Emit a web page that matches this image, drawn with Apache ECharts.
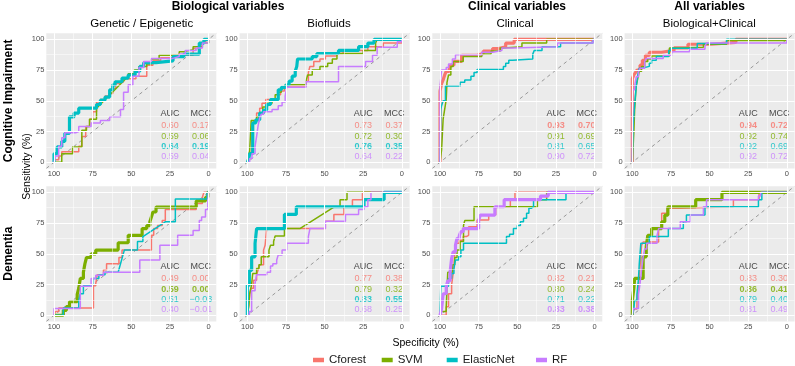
<!DOCTYPE html>
<html>
<head>
<meta charset="utf-8">
<script src="https://cdn.jsdelivr.net/npm/echarts@6/dist/echarts.min.js"></script>
<style>html,body{margin:0;padding:0;background:#fff}#main{width:795px;height:366px}</style>
</head>
<body>
<div id="main"></div>
<script>
// models, ggplot hue colours
var models = ['Cforest', 'SVM', 'ElasticNet', 'RF'];
var colors = ['#F8766D', '#7CAE00', '#00BFC4', '#C77CFF'];
var colTitles = ['Genetic / Epigenetic', 'Biofluids', 'Clinical', 'Biological+Clinical'];
var rowTitles = ['Cognitive Impairment', 'Dementia'];
var tickValues = [0, 25, 50, 75, 100];
var minorValues = [12.5, 37.5, 62.5, 87.5];

// AUC / MCC in model order, per panel (columns left to right)
var aucCI = [[0.60, 0.59, 0.64, 0.59], [0.73, 0.72, 0.76, 0.64], [0.93, 0.91, 0.81, 0.90], [0.94, 0.92, 0.92, 0.92]];
var mccCI = [[0.17, 0.06, 0.19, 0.04], [0.37, 0.30, 0.35, 0.22], [0.70, 0.69, 0.65, 0.72], [0.72, 0.74, 0.69, 0.72]];
var aucDem = [[0.49, 0.59, 0.51, 0.40], [0.77, 0.79, 0.83, 0.68], [0.82, 0.80, 0.71, 0.83], [0.83, 0.86, 0.79, 0.81]];
var mccDem = [[0.00, 0.00, -0.03, -0.01], [0.38, 0.32, 0.55, 0.25], [0.21, 0.24, 0.22, 0.38], [0.30, 0.41, 0.40, 0.49]];
var bestCI = [2, 2, 0, 0];
var bestDem = [1, 2, 3, 1];

// ROC curves [specificity, sensitivity], order: Cforest, SVM, ElasticNet, RF
var ciGenetic = [
  [[100,0],[100,2],[97,2],[97,5],[95,5],[95,8.5],[84,8.5],[84,13],[82,13],[82,21],[79.5,21],[79.5,29],[77,29],[77,35],[75,35],[75,41],[72.5,41],[72.5,49],[70,49],[70,51],[67,51],[67,54],[64.5,54],[64.5,56],[62,56],[62,60],[60,60],[60,64],[58,64],[58,65.5],[55,65.5],[55,68],[47,68],[47,70],[40,70],[40,79],[36,79],[36,82.5],[31,82.5],[31,85],[23,85],[23,87],[10,87],[10,92.5],[5,92.5],[5,97],[2,97],[2,100],[0,100]],
  [[100,0],[95,0],[95,7],[88,7],[88,12.5],[82,12.5],[82,26],[79,26],[79,29],[77,29],[77,35],[72.5,35],[72.5,44],[52,70],[52,72],[48,72],[48,75],[45,75],[45,78],[40,78],[40,80],[37,80],[37,84],[32,84],[32,87],[19,87],[19,90],[16,90],[16,91.5],[10,91.5],[10,94],[4,94],[4,97],[0,97],[0,100]],
  [[100,0],[100,7],[98,7],[98,12.5],[95,12.5],[95,17],[93,17],[93,23.5],[90,23.5],[90,37],[87,37],[87,40],[84,40],[84,44],[72.5,44],[72.5,47],[70,47],[70,50.5],[67,50.5],[67,53],[64,53],[64,59],[62,59],[62,63],[60.5,63],[60.5,65.5],[56,65.5],[56,68.5],[52,68.5],[52,71],[47.5,71],[47.5,74],[44.5,74],[44.5,78],[42,78],[42,81],[34,81],[34,82.5],[23,82.5],[23,86],[16,86],[16,88],[6,88],[6,97],[3,97],[3,100],[0,100]],
  [[100,0],[99,0],[99,5],[97,5],[97,13],[95,13],[95,20],[93,20],[93,24],[86,24],[86,25],[84,25],[84,29],[76,29],[76,32],[70,32],[70,34],[64,34],[64,37],[57,37],[57,43],[55,43],[55,57],[52,57],[52,63],[49,63],[49,70],[45,70],[45,77],[42,77],[42,82],[37,82],[37,84.5],[23,84.5],[23,86],[19,86],[19,88],[15,88],[15,91],[8,91],[8,93],[4,93],[4,97],[0,97],[0,100]]
];
var ciBiofluids = [
  [[100,0],[99,2],[98.5,2],[98.5,8],[97,8],[97,20],[96,20],[96,33],[94,33],[94,40],[92,40],[92,44],[90.5,44],[90.5,48],[88,48],[88,51],[80,51],[80,55],[78.5,55],[78.5,58],[76,58],[76,62],[62,62],[62,66],[60.5,66],[60.5,73],[59.5,73],[59.5,78],[57,78],[57,82],[53,82],[53,84],[49.5,84],[49.5,86.5],[42,86.5],[42,88.5],[38,88.5],[38,91],[22,91],[22,94],[12,94],[12,97],[0,97],[0,100]],
  [[100,0],[99.5,0],[99.5,5],[98.5,5],[98.5,9],[97.5,9],[97.5,34],[94,34],[94,37],[92,37],[92,40],[90,40],[90,45],[87,45],[87,48],[84,48],[84,51],[82,51],[82,55],[80,55],[80,57],[78,57],[78,60],[75.5,60],[75.5,63],[62,63],[62,66],[61,66],[61,71],[58,71],[58,75],[53,75],[53,78],[48,78],[48,80.5],[45,80.5],[45,84],[42,84],[42,88.5],[25,88.5],[25,91],[17,91],[17,97],[16,97],[16,100],[0,100]],
  [[100,0],[99,3],[98.5,3],[98.5,7],[96.5,7],[96.5,12],[96.5,32],[94.5,32],[94.5,34.5],[92,34.5],[92,40],[89.5,40],[89.5,42.5],[87.5,42.5],[87.5,47],[85,47],[85,51],[80,51],[80,59],[78,59],[78,61],[75,61],[75,63],[73,63],[73,66],[71,66],[71,70],[69,70],[69,74],[68,74],[68,78],[67.5,78],[67.5,84],[58,84],[58,86],[55,86],[55,88.5],[41,88.5],[41,91],[28,91],[28,94],[22,94],[22,97],[18,97],[18,100],[0,100]],
  [[100,0],[98.5,0],[98.5,3],[97,3],[97,7],[95,7],[95,13],[94,13],[94,21],[93,21],[93,30],[92,30],[92,36],[91,36],[91,39],[89.5,39],[89.5,41],[84,41],[84,43],[80,43],[80,46],[77.5,46],[77.5,49],[75.5,49],[75.5,54],[74.5,54],[74.5,61],[62,61],[62,65.5],[41,65.5],[41,78],[23.5,78],[23.5,82],[19,82],[19,87],[16,87],[16,93.5],[3,93.5],[3,98],[0,98],[0,100]]
];
var ciClinical = [
  [[100,0],[100,58],[99,58],[99,64],[98,64],[98,67],[97,67],[97,71],[96,71],[96,74],[94,74],[94,76],[93,76],[93,79],[91,79],[91,82],[86,82],[86,87],[76,87],[76,88.5],[72,88.5],[72,90.5],[66,90.5],[66,92.5],[62,92.5],[62,94],[57.5,94],[57.5,97],[52,97],[52,100],[0,100]],
  [[100,0],[99,0],[99,10],[98,10],[98,35],[97,35],[97,43],[96,43],[96,51],[95.5,51],[95.5,65],[94.5,65],[94.5,71],[93,71],[93,78],[91.5,78],[91.5,82],[85,82],[85,86],[73,86],[73,88],[67,88],[67,90.5],[61,90.5],[61,93],[59,93],[59,94],[47,94],[47,97],[31,97],[31,100],[0,100]],
  [[100,0],[99.5,0],[99.5,43],[99,43],[99,46],[98,46],[98,50],[96.5,50],[96.5,62],[87,62],[87,65],[84,65],[84,67],[80,67],[80,70],[78,70],[78,73],[76,73],[76,75.5],[59,75.5],[59,78],[57.5,78],[57.5,80.5],[55.5,80.5],[55.5,83],[53,83],[53,84],[40,84],[40,88],[39,88],[39,91],[34,91],[34,94],[22,94],[22,97],[1,97],[1,100],[0,100]],
  [[100,0],[100,62],[99,62],[99,75],[96,75],[96,77],[94.5,77],[94.5,80],[92,80],[92,84],[90,84],[90,87.5],[73,87.5],[73,89.5],[66,89.5],[66,91],[60,91],[60,93],[53,93],[53,94],[24,94],[24,97],[1,97],[1,100],[0,100]]
];
var ciAll = [
  [[100,0],[100,68],[99,68],[99,71],[98,71],[98,73],[97,73],[97,75],[95,75],[95,79],[93.5,79],[93.5,83],[91.5,83],[91.5,87],[89,87],[89,89.5],[81,89.5],[81,91],[73,91],[73,93],[64,93],[64,96],[49,96],[49,97.5],[33,97.5],[33,100],[0,100]],
  [[100,0],[99,0],[99,25],[98.5,25],[98.5,43],[97.5,43],[97.5,62],[96.5,62],[96.5,68],[95.5,68],[95.5,74],[94,74],[94,78],[92,78],[92,82],[90,82],[90,84],[87.5,84],[87.5,86.5],[76,86.5],[76,93],[70,93],[70,93.5],[54,93.5],[54,96],[39,96],[39,99],[0,99],[0,100]],
  [[100,0],[99.5,0],[99.5,30],[98.5,30],[98.5,47],[97.5,47],[97.5,61.5],[96.5,61.5],[96.5,71],[95.5,71],[95.5,76.5],[94,76.5],[94,78],[89,78],[89,80.5],[87.5,80.5],[87.5,83],[84.5,83],[84.5,86],[76.5,86],[76.5,91],[75,91],[75,92.7],[58,92.7],[58,96.7],[39,96.7],[39,100],[0,100]],
  [[100,0],[99.8,0],[99.8,59],[98.5,59],[98.5,62],[97.5,62],[97.5,69.5],[96,69.5],[96,73.5],[95,73.5],[95,76.5],[92,76.5],[92,82],[91,82],[91,84.5],[80,84.5],[80,87],[74.5,87],[74.5,90],[63,90],[63,92],[53,92],[53,94.5],[52,94.5],[52,97],[0,97],[0,100]]
];
var demGenetic = [
  [[100,0],[99,0],[99,3],[97,3],[97,6],[74.5,6],[74.5,24],[73,24],[73,26],[72,26],[72,33],[68,33],[68,37],[66,37],[66,42],[58,42],[58,47],[56,47],[56,53],[37,53],[37,65],[35.5,65],[35.5,70.5],[33,70.5],[33,73],[30,73],[30,77],[28,77],[28,86],[8,86],[8,91],[4,91],[4,96],[3,96],[3,100],[0,100]],
  [[100,0],[94,0],[94,4],[92,4],[92,7],[90,7],[90,11],[85,11],[85,17],[84,17],[84,22],[83,22],[83,30],[81,30],[81,35],[80,35],[80,42],[79,42],[79,47],[76,47],[76,50],[73,50],[73,53],[58.5,53],[58.5,59],[52,59],[52,65],[43,65],[43,70.5],[40,70.5],[40,73],[38,73],[38,76],[37,76],[37,80],[36,80],[36,84],[34,84],[34,88],[8,88],[8,93],[2,93],[2,96],[0.5,96],[0.5,100],[0,100]],
  [[100,0],[94,0],[94,6],[84,6],[84,12],[83,12],[83,17.5],[81,17.5],[81,24],[75,24],[75,30],[71,30],[71,33],[67,33],[67,35],[58.5,35],[54.5,53],[46,53],[46,60],[42.5,60],[42.5,64],[28,76],[21.5,76],[21.5,94.5],[1,94.5],[1,100],[0,100]],
  [[100,0],[100,5.5],[83,5.5],[83,23.5],[76,23.5],[76,30],[73,30],[73,32.6],[68,32.6],[68,35],[44.5,35],[44.5,45],[31.5,45],[31.5,57],[20,57],[20,65],[10,65],[10,69],[6,69],[6,77],[4.5,77],[4.5,80],[2,80],[2,86],[0.5,86],[0.5,91],[0,91],[0,100]]
];
var demBiofluids = [
  [[100,0],[99.3,0],[99.3,6],[98.5,6],[98.5,17],[97.5,17],[97.5,22],[96,22],[96,28.5],[94,28.5],[94,33],[93,33],[93,37],[92,37],[92,41],[89.5,41],[89.5,53],[88.5,53],[88.5,57],[87.5,57],[87.5,70.5],[49.5,70.5],[49.5,76.5],[44,76.5],[44,82],[37.5,82],[37.5,88.3],[32,88.3],[32,94],[25.5,94],[25.5,100],[0,100]],
  [[100,0],[99,0],[99,8],[98.5,8],[98.5,17.5],[97.3,17.5],[97.3,24.5],[96.5,24.5],[96.5,34],[94,34],[94,38],[92.5,38],[92.5,41],[91,41],[91,47.5],[86,47.5],[86,53],[85,53],[85,57],[83,57],[83,60],[82,60],[82,64.5],[76,64.5],[76,70.5],[66,70.5],[43.5,88.3],[40,88.3],[40,94],[35.5,94],[35.5,100],[0,100]],
  [[100,0],[100,24.5],[98.7,24.5],[98.7,36.5],[97.2,36.5],[97.2,47.5],[95,47.5],[95,58.5],[94,58.5],[94,70.5],[76,70.5],[76,82],[68.3,82],[68.3,88.3],[24.5,88.3],[24.5,94],[11.5,94],[11.5,100],[0,100]],
  [[100,0],[98.7,0],[98.7,3],[97.2,3],[97.2,20],[95,20],[95,26],[94,26],[94,33],[87.4,33],[87.4,35],[85,35],[85,40],[83.5,40],[83.5,42],[81,42],[81,45],[80,45],[80,49],[77.5,49],[77.5,53],[74.5,53],[74.5,58.5],[60.5,58.5],[60.5,64],[59.5,64],[59.5,70.5],[49.5,70.5],[49.5,76.5],[36.5,76.5],[36.5,82],[28,82],[28,86],[24.5,86],[24.5,88.3],[22,88.3],[22,94],[20,94],[20,100],[0,100]]
];
var demClinical = [
  [[100,0],[96,0],[96,7],[94.5,7],[94.5,17.5],[92.5,17.5],[92.5,25],[91.5,25],[91.5,34],[90.5,34],[90.5,49],[89.5,49],[89.5,58.5],[87.5,58.5],[87.5,61],[85,61],[85,64],[83,64],[83,65],[81.5,65],[81.5,72],[76,72],[76,77.5],[68.5,77.5],[68.5,81.5],[64,81.5],[64,88.3],[54.5,88.3],[54.5,94],[51.5,94],[51.5,100],[0,100]],
  [[100,0],[99,0],[99,3],[96,3],[96,7],[95,7],[95,35],[92,35],[92,41],[90.5,41],[90.5,47],[89,47],[89,53],[87,53],[87,60],[84.8,60],[84.8,73],[84,73],[84,77],[78,77],[78,88.3],[37,88.3],[37,94],[31,94],[31,100],[0,100]],
  [[100,0],[99.5,0],[99.5,23.5],[94.5,23.5],[94.5,30],[92.5,30],[92.5,34],[91,34],[91,38],[90,38],[90,45],[88,45],[88,47.5],[86.5,47.5],[86.5,53],[84.8,53],[84.8,58.5],[57,58.5],[57,64],[55,64],[55,66],[52.5,66],[52.5,70.5],[50,70.5],[50,73],[48,73],[48,76],[46,76],[46,79],[44,79],[44,83],[42.5,83],[42.5,87],[41,87],[41,88.3],[39.5,88.3],[39.5,94],[18.5,94],[18.5,100],[0,100]],
  [[100,0],[99,0],[99,5],[98,5],[98,17.5],[96,17.5],[96,23],[95,23],[95,28],[93.5,28],[93.5,35],[92.5,35],[92.5,46],[91.5,46],[91.5,51.5],[90,51.5],[90,57],[89,57],[89,62.5],[87.5,62.5],[87.5,65],[86.5,65],[86.5,68],[85,68],[85,70.5],[75,70.5],[75,77],[74,77],[74,81.5],[64.5,81.5],[64.5,88.3],[58.5,88.3],[58.5,94],[35,94],[35,97],[30,97],[30,100],[0,100]]
];
var demAll = [
  [[100,0],[99,0],[99,5],[97,5],[97,12],[96,12],[96,23],[95,23],[95,40],[94,40],[94,57],[93,57],[93,59.5],[83,59.5],[83,70.5],[81,70.5],[81,83],[77.5,83],[77.5,87],[69,87],[69,88.3],[34.6,88.3],[34.6,94],[18,94],[18,100],[0,100]],
  [[100,0],[100,12],[99,12],[99,22],[98.5,22],[98.5,30],[93,30],[93,47.5],[91,47.5],[91,56],[90,56],[90,65],[87.5,65],[87.5,70.5],[81,70.5],[81,76],[79,76],[79,81.5],[77,81.5],[77,88.3],[59,88.3],[59,94],[42,94],[42,100],[0,100]],
  [[100,0],[99,0],[99,5],[98.5,5],[98.5,12],[97,12],[97,17.5],[96,17.5],[96,30],[95.5,30],[95.5,42],[94.5,42],[94.5,58.5],[89,58.5],[89,64],[76.7,64],[76.7,70.5],[67,70.5],[67,76],[65,76],[65,81.5],[53,81.5],[53,88.3],[18.4,88.3],[18.4,94],[16.2,94],[16.2,100],[0,100]],
  [[100,0],[99.4,0],[99.4,5.5],[96,5.5],[96,17],[95,17],[95,26],[94,26],[94,37],[93,37],[93,47.5],[92,47.5],[92,54],[90.7,54],[90.7,58.5],[84,58.5],[84,65],[83,65],[83,70.5],[69,70.5],[69,76],[62.5,76],[62.5,81.5],[54,81.5],[54,88.3],[52,88.3],[52,94],[18.4,94],[18.4,97],[17,97],[17,100],[0,100]]
];

var panels = [[ciGenetic, ciBiofluids, ciClinical, ciAll], [demGenetic, demBiofluids, demClinical, demAll]];
var aucs = [aucCI, aucDem];
var mccs = [mccCI, mccDem];
var bests = [bestCI, bestDem];

var font = '"Liberation Sans", Arial, Helvetica, sans-serif';
var gridLeft = [46.3, 239.6, 432.3, 624.6];
var gridTop = [33.2, 186.2];
var annY = [40, 29.5, 21, 12.5, 4.5];

function fmt(v) {
  return v < 0 ? '\u2212' + Math.abs(v).toFixed(2) : v.toFixed(2);
}

var grids = [], xAxes = [], yAxes = [], series = [];
for (var r = 0; r < 2; r++) {
  for (var c = 0; c < 4; c++) {
    var idx = r * 4 + c;
    grids.push({left: gridLeft[c], top: gridTop[r], width: 170, height: 135.2,
      show: true, backgroundColor: '#EBEBEB', borderWidth: 0});
    var axisBase = {
      type: 'value', gridIndex: idx, min: -5, max: 105,
      axisLine: {show: false},
      axisTick: {show: true, length: 2.5, customValues: tickValues, lineStyle: {color: '#333333', width: 0.8}},
      axisLabel: {customValues: tickValues, fontSize: 7.5, color: '#4D4D4D', margin: 2, fontFamily: font},
      splitLine: {show: false}
    };
    xAxes.push(Object.assign({}, axisBase, {inverse: true}));
    yAxes.push(Object.assign({}, axisBase));

    // panel grid lines
    var gl = [];
    minorValues.forEach(function (v) {
      gl.push({xAxis: v, lineStyle: {color: '#FFFFFF', width: 0.5, type: 'solid'}});
      gl.push({yAxis: v, lineStyle: {color: '#FFFFFF', width: 0.5, type: 'solid'}});
    });
    tickValues.forEach(function (v) {
      gl.push({xAxis: v, lineStyle: {color: '#FFFFFF', width: 1.1, type: 'solid'}});
      gl.push({yAxis: v, lineStyle: {color: '#FFFFFF', width: 1.1, type: 'solid'}});
    });
    series.push({type: 'line', xAxisIndex: idx, yAxisIndex: idx, data: [], silent: true, z: 1,
      markLine: {silent: true, symbol: ['none', 'none'], label: {show: false}, animation: false, data: gl}});

    // chance diagonal
    series.push({type: 'line', xAxisIndex: idx, yAxisIndex: idx, data: [[105, -5], [-5, 105]],
      symbol: 'none', silent: true, z: 2,
      lineStyle: {color: '#8E8E8E', width: 0.9, type: [3.5, 3.5]}});

    var curves = panels[r][c];
    for (var m = 0; m < 4; m++) {
      var bold = bests[r][c] === m;
      series.push({type: 'line', name: models[m], xAxisIndex: idx, yAxisIndex: idx,
        data: curves[m], symbol: 'none', showSymbol: false, color: colors[m], z: 3,
        lineStyle: {color: colors[m], width: bold ? 3.2 : 1.5}});
    }

    // AUC / MCC table
    var ann = [
      {value: [25, annY[0]], label: {formatter: 'AUC', color: '#1A1A1A'}},
      {value: [5, annY[0]], label: {formatter: 'MCC', color: '#1A1A1A'}}
    ];
    for (var k = 0; k < 4; k++) {
      var fw = bests[r][c] === k ? 'bold' : 'normal';
      ann.push({value: [25, annY[k + 1]], label: {formatter: fmt(aucs[r][c][k]), color: colors[k], fontWeight: fw}});
      ann.push({value: [5, annY[k + 1]], label: {formatter: fmt(mccs[r][c][k]), color: colors[k], fontWeight: fw}});
    }
    series.push({type: 'scatter', xAxisIndex: idx, yAxisIndex: idx, data: ann, symbolSize: 0, silent: true, z: 4,
      label: {show: true, position: [0, 0], align: 'center', verticalAlign: 'middle', fontSize: 9, fontFamily: font,
        textBorderWidth: 0}});
  }
}

function txt(s, x, y, f, rot) {
  return {type: 'text', x: x, y: y, rotation: rot || 0, silent: true,
    style: {text: s, font: f, fill: '#000000', align: 'center', verticalAlign: 'middle',
      textAlign: 'center', textVerticalAlign: 'middle'}};
}

var graphics = [
  txt('Biological variables', 228, 7, 'bold 12px ' + font),
  txt('Clinical variables', 517, 7, 'bold 12px ' + font),
  txt('All variables', 709.6, 7, 'bold 12px ' + font),
  txt(colTitles[0], 141.7, 24, '11.5px ' + font),
  txt(colTitles[1], 329, 24, '11.5px ' + font),
  txt(colTitles[2], 515, 24, '11.5px ' + font),
  txt(colTitles[3], 709.3, 24, '11.5px ' + font),
  txt(rowTitles[0], 9, 100.8, 'bold 12px ' + font, Math.PI / 2),
  txt(rowTitles[1], 9, 253.7, 'bold 12px ' + font, Math.PI / 2),
  txt('Sensitivity (%)', 27, 166.5, '10.5px ' + font, Math.PI / 2),
  txt('Specificity (%)', 425.7, 343, '10.5px ' + font)
];

var legendLeft = [313, 381.7, 446.7, 536];
var legends = models.map(function (m, i) {
  return {data: [m], left: legendLeft[i], top: 354, padding: 0, icon: 'rect',
    itemWidth: 11, itemHeight: 4.5, selectedMode: false,
    textStyle: {fontSize: 11.5, color: '#1A1A1A', fontFamily: font}};
});

var myChart = echarts.init(document.getElementById('main'), null, {renderer: 'canvas'});
myChart.setOption({
  animation: false,
  backgroundColor: '#FFFFFF',
  grid: grids,
  xAxis: xAxes,
  yAxis: yAxes,
  legend: legends,
  graphic: graphics,
  series: series
});
</script>
</body>
</html>
